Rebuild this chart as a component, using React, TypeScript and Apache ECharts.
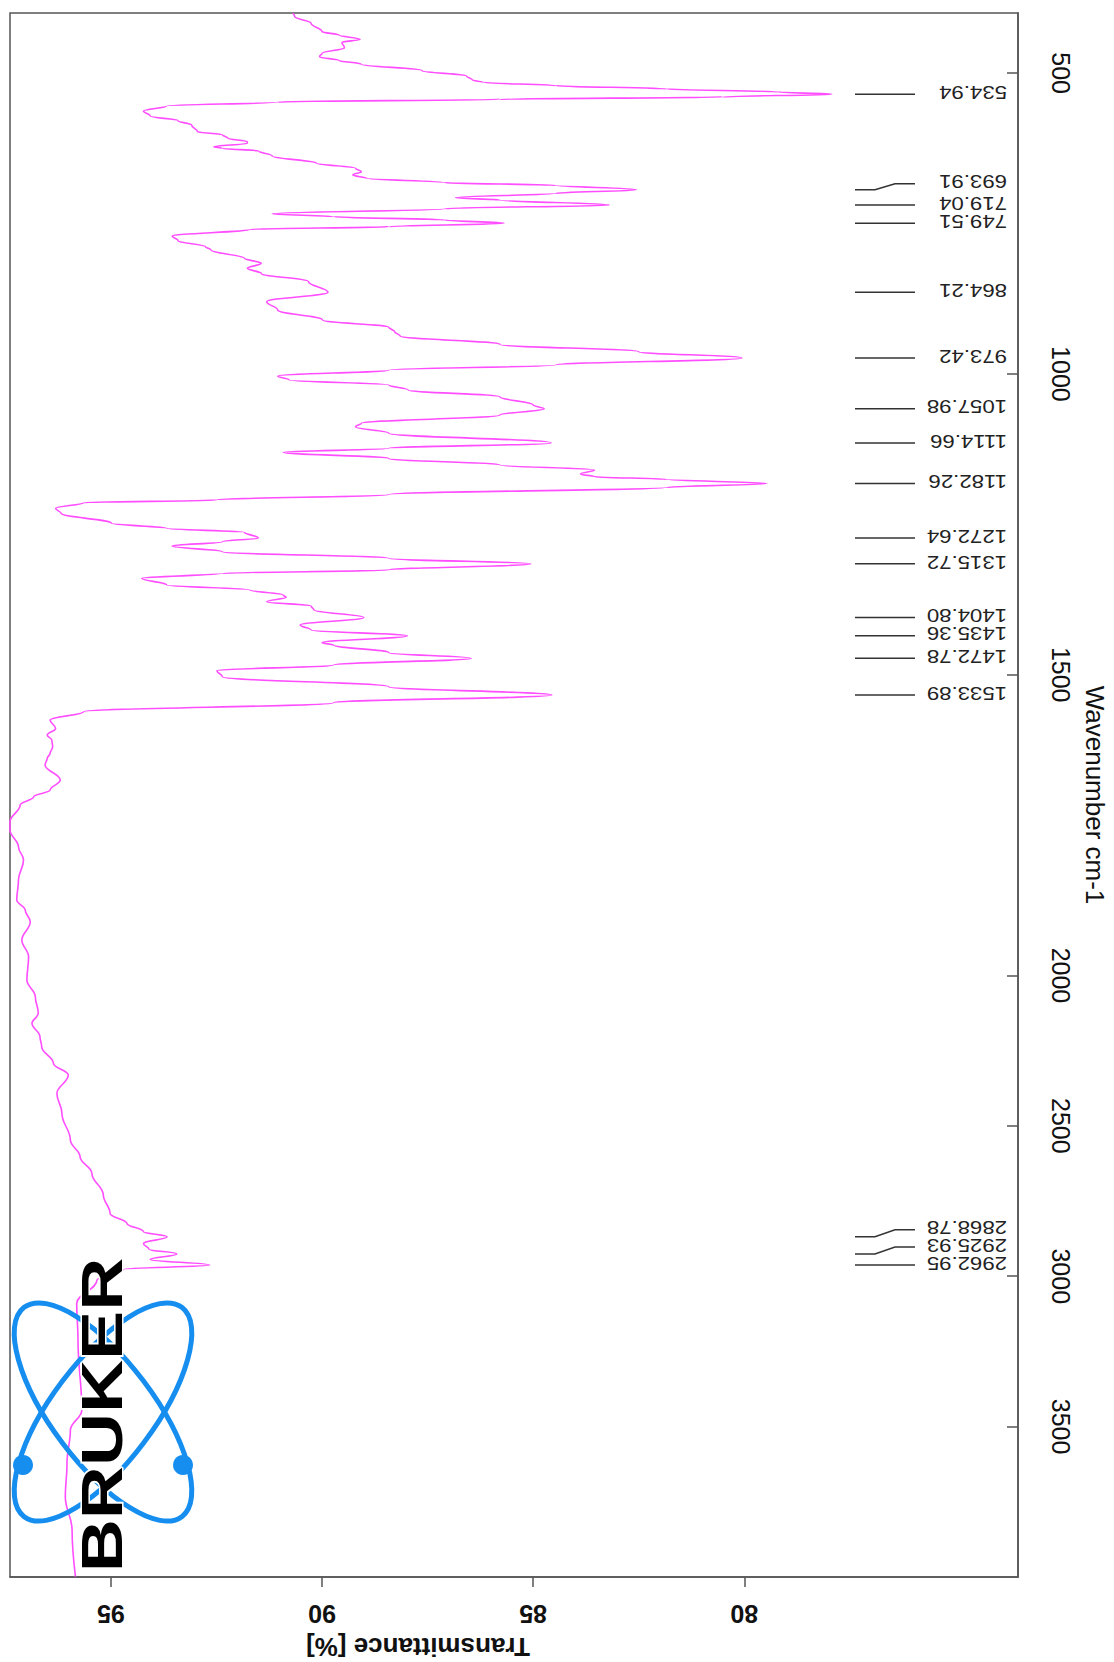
import React, { useEffect, useRef } from "react";
import * as echarts from "echarts";

// IR spectrum, [wavenumber cm-1, transmittance %], split by region.
const SPECTRUM_FINGERPRINT: [number, number][] = [
  [400.5, 90.69], [406, 90.65], [417, 90.26], [431, 90.0], [436.6, 89.6], [443.8, 89.1],
  [449, 89.53], [457.6, 89.47], [467, 90.0], [472.6, 90.06], [479, 89.6], [485, 89.07],
  [495.9, 87.63], [504.7, 86.58], [511.4, 86.44], [515.3, 86.18], [520.8, 84.47],
  [526.3, 81.84], [531.3, 79.21], [534.94, 77.93], [539.6, 80.52], [543.5, 85.79],
  [548, 91.05], [554.6, 93.68], [563, 94.23], [571.2, 94.07], [579, 93.41], [586.2, 93.09],
  [597.3, 92.95], [602.3, 92.36], [608.4, 92.23], [613.9, 91.77], [616.7, 91.77],
  [622.2, 92.56], [625, 92.36], [629.4, 91.5], [637.7, 91.18], [649.9, 90.13],
  [658.2, 89.21], [663.8, 89.07], [669.3, 89.27], [674.9, 88.94], [682.1, 87.1],
  [686.5, 84.47], [693.91, 82.56], [699.8, 84.47], [707, 86.84], [710.9, 85.79],
  [719.04, 83.2], [725.3, 87.1], [733.6, 91.18], [738.6, 89.73], [744.1, 87.1],
  [749.51, 85.69], [755.2, 88.42], [759.7, 91.71], [770.7, 93.55], [778.5, 93.41],
  [788.5, 92.76], [794, 92.63], [807.9, 91.84], [816.2, 91.44], [824.5, 91.77],
  [832.9, 91.44], [846.7, 90.32], [864.21, 89.86], [879.9, 91.31], [893.8, 91.05],
  [910.4, 89.99], [922.6, 88.42], [929.8, 88.28], [937, 88.15], [950.9, 85.79],
  [963, 82.5], [973.42, 80.06], [985.2, 84.47], [993.6, 88.42],
];

const SPECTRUM_MID: [number, number][] = [
  [1003.5, 91.05], [1010.2, 90.78], [1018.5, 88.42], [1026.8, 87.96], [1037.9, 85.79],
  [1051.7, 85.0], [1057.98, 84.74], [1068.4, 85.79], [1082.2, 89.07], [1087.8, 89.21],
  [1098.8, 88.42], [1114.66, 84.58], [1123.7, 88.42], [1130.4, 90.92], [1140.4, 88.42],
  [1151.5, 85.79], [1159.8, 83.55], [1166.4, 83.88], [1170.9, 83.55], [1175.3, 81.84],
  [1182.26, 79.47], [1188.6, 81.84], [1200.3, 88.42], [1209.6, 92.5], [1214, 95.65],
  [1223.5, 96.31], [1231.8, 96.18], [1248.4, 94.99], [1256.7, 93.68], [1263.4, 91.84],
  [1272.64, 91.51], [1278.9, 92.36], [1286.1, 93.55], [1295.5, 92.36], [1306.6, 88.42],
  [1315.72, 85.06], [1326, 88.42], [1331.5, 92.36], [1339.8, 94.27], [1350.9, 93.68],
  [1359.2, 91.71], [1367.5, 90.92], [1371.4, 90.85], [1378.6, 91.31], [1385.8, 90.26],
  [1392.5, 90.19], [1404.8, 89.01], [1417.4, 90.52], [1425.7, 90.26], [1435.36, 87.98],
  [1446.8, 90.0], [1450.7, 89.73], [1463.4, 88.42], [1472.78, 86.47], [1483.9, 89.73],
  [1493.4, 92.49], [1503.4, 92.36], [1520, 88.42], [1533.89, 84.56], [1546.6, 89.73],
  [1561.6, 95.65], [1575.4, 96.44], [1589.3, 96.31],
];

const SPECTRUM_HIGH: [number, number][] = [
  [1600.4, 96.51], [1608.7, 96.4], [1619.8, 96.38], [1630.8, 96.44], [1639.2, 96.51],
  [1650.2, 96.56], [1675.2, 96.2], [1691.8, 96.44], [1702.9, 96.83], [1716.7, 97.15],
  [1744.4, 97.39], [1758.3, 97.39], [1786, 97.19], [1808.2, 97.07], [1841.4, 97.19],
  [1874.7, 97.23], [1891.3, 97.03], [1910.7, 96.91], [1941.2, 97.11], [1968.9, 96.95],
  [2015.5, 96.99], [2070.8, 96.79], [2126, 96.72], [2159, 96.87], [2203.8, 96.68],
  [2237, 96.64], [2292.4, 96.36], [2331.2, 96.01], [2392, 96.28], [2458.6, 96.16],
  [2547.4, 95.96], [2602.8, 95.73], [2658.2, 95.45], [2730.2, 95.18], [2791.2, 95.02],
  [2824.4, 94.62], [2852.2, 94.23], [2868.78, 93.67], [2891, 94.23], [2910, 94.1],
  [2925.93, 93.44], [2944, 94.07], [2962.95, 92.66], [2977, 94.7], [3012.8, 95.33],
  [3090.4, 95.81], [3212.4, 95.78], [3445.2, 95.69], [3511.6, 95.96], [3621.2, 96.04],
  [3734.4, 96.08], [3844, 95.92], [3999, 95.84],
];

// Picked peaks (wavenumber, cm-1)
const PEAKS = [
  534.94, 693.91, 719.04, 749.51, 864.21, 973.42, 1057.98, 1114.66, 1182.26, 1272.64,
  1315.72, 1404.8, 1435.36, 1472.78, 1533.89, 2868.78, 2925.93, 2962.95,
];

const TRANSMITTANCE_TICKS = [80, 85, 90, 95];
const WAVENUMBER_TICKS = [500, 1000, 1500, 2000, 2500, 3000, 3500];

// Axis ranges
const T_MIN = 73.52;
const T_MAX = 97.39;
const W_MIN = 400;
const W_MAX = 4000;

// Above this wavenumber the axis is drawn at half scale
const SCALE_BREAK = 2000;
const toAxis = (w: number) => (w <= SCALE_BREAK ? w : SCALE_BREAK + (w - SCALE_BREAK) / 2);
const fromAxis = (u: number) => (u <= SCALE_BREAK ? u : SCALE_BREAK + (u - SCALE_BREAK) * 2);

// Vertical nudges (px) for crowded peak labels
const PEAK_LABEL_NUDGE: Record<string, number> = {
  "693.91": -6,
  "2868.78": -7,
  "2925.93": -7,
};

const FONT = '"Liberation Sans", Arial, sans-serif';
const AXIS_GRAY = "#555";
const SPECTRUM_COLOR = "#ff4dff";
const LOGO_BLUE = "#168ef0";

export default function App() {
  const ref = useRef<HTMLDivElement>(null);

  useEffect(() => {
    if (!ref.current) return;
    const chart = echarts.init(ref.current, null, { renderer: "svg" });

    const spectrum = [...SPECTRUM_FINGERPRINT, ...SPECTRUM_MID, ...SPECTRUM_HIGH].map(
      ([w, t]) => [t, toAxis(w)]
    );

    const option: any = {
      animation: false,
      backgroundColor: "#fff",
      textStyle: { fontFamily: FONT },
      grid: {
        left: 10,
        top: 13,
        right: 96,
        bottom: 85,
        show: true,
        borderColor: AXIS_GRAY,
        borderWidth: 1.5,
        outerBoundsMode: "none",
      },
      xAxis: {
        type: "value",
        min: T_MIN,
        max: T_MAX,
        inverse: true,
        axisLine: { show: true, onZero: false, lineStyle: { color: AXIS_GRAY, width: 1.5 } },
        axisTick: {
          show: true,
          length: 10,
          customValues: TRANSMITTANCE_TICKS,
          lineStyle: { color: AXIS_GRAY, width: 1.5 },
        },
        axisLabel: {
          customValues: TRANSMITTANCE_TICKS,
          rotate: 180,
          fontSize: 25,
          fontWeight: "bold",
          color: "#111",
          margin: 24,
          fontFamily: FONT,
        },
        splitLine: { show: false },
      },
      yAxis: {
        type: "value",
        min: toAxis(W_MIN),
        max: toAxis(W_MAX),
        inverse: true,
        position: "right",
        axisLine: { show: true, onZero: false, lineStyle: { color: AXIS_GRAY, width: 1.5 } },
        axisTick: {
          show: true,
          inside: true,
          length: 11,
          customValues: WAVENUMBER_TICKS.map(toAxis),
          lineStyle: { color: AXIS_GRAY, width: 1.5 },
        },
        axisLabel: {
          customValues: WAVENUMBER_TICKS.map(toAxis),
          rotate: -90,
          fontSize: 25,
          color: "#111",
          margin: 30,
          fontFamily: FONT,
          formatter: (v: number) => String(Math.round(fromAxis(v))),
        },
        name: "Wavenumber cm-1",
        nameLocation: "middle",
        nameRotate: -90,
        nameGap: 64,
        nameTextStyle: { fontSize: 26, color: "#111", fontFamily: FONT },
        splitLine: { show: false },
      },
      series: [
        {
          type: "line",
          data: spectrum,
          showSymbol: false,
          smooth: 0.4,
          smoothMonotone: "y",
          silent: true,
          lineStyle: { color: SPECTRUM_COLOR, width: 1.6 },
          z: 2,
        },
        {
          type: "custom",
          coordinateSystem: "cartesian2d",
          silent: true,
          clip: false,
          data: PEAKS.map((w, i) => [T_MIN, toAxis(w), i]),
          encode: { x: 0, y: 1 },
          renderItem: (params: any, api: any) => {
            const idx = api.value(2);
            const w = PEAKS[idx];
            const label = w.toFixed(2);
            const pt = api.coord([api.value(0), api.value(1)]);
            const cs = params.coordSys;
            const right = cs.x + cs.width;
            const y = pt[1];
            const dy = PEAK_LABEL_NUDGE[label] || 0;
            return {
              type: "group",
              children: [
                {
                  type: "polyline",
                  shape: {
                    points: [
                      [right - 163, y],
                      [right - 143, y],
                      [right - 123, y + dy],
                      [right - 103, y + dy],
                    ],
                  },
                  style: { stroke: "#333", lineWidth: 1.5, fill: null },
                },
                {
                  type: "text",
                  x: right - 11,
                  y: y + dy - 2,
                  rotation: Math.PI,
                  scaleX: 1.2,
                  style: {
                    text: label,
                    fill: "#222",
                    font: `18.5px ${FONT}`,
                    align: "left",
                    verticalAlign: "middle",
                  },
                },
              ],
            };
          },
          z: 3,
        },
      ],
      graphic: [
        {
          type: "text",
          x: 418,
          y: 1647,
          rotation: Math.PI,
          z: 100,
          style: {
            text: "Transmittance [%]",
            font: `bold 26px ${FONT}`,
            fill: "#111",
            align: "center",
            verticalAlign: "middle",
          },
        },
        {
          type: "group",
          z: 100,
          children: [
            {
              type: "ellipse",
              x: 103,
              y: 1412,
              rotation: (53 * Math.PI) / 180,
              shape: { cx: 0, cy: 0, rx: 131, ry: 51 },
              style: { stroke: LOGO_BLUE, lineWidth: 5, fill: null },
              z: 100,
            },
            {
              type: "ellipse",
              x: 103,
              y: 1412,
              rotation: (-53 * Math.PI) / 180,
              shape: { cx: 0, cy: 0, rx: 131, ry: 51 },
              style: { stroke: LOGO_BLUE, lineWidth: 5, fill: null },
              z: 100,
            },
            {
              type: "circle",
              shape: { cx: 23, cy: 1465, r: 10 },
              style: { fill: LOGO_BLUE },
              z: 101,
            },
            {
              type: "circle",
              shape: { cx: 183, cy: 1465, r: 10 },
              style: { fill: LOGO_BLUE },
              z: 101,
            },
            {
              type: "text",
              x: 102,
              y: 1415,
              rotation: Math.PI / 2,
              scaleX: 1.29,
              z: 102,
              style: {
                text: "BRUKER",
                font: `bold 57px ${FONT}`,
                fill: "#000",
                stroke: "#fff",
                lineWidth: 3,
                align: "center",
                verticalAlign: "middle",
              },
            },
          ],
        },
      ],
    };

    chart.setOption(option);
    return () => chart.dispose();
  }, []);

  return (
    <div
      ref={ref}
      style={{
        position: "fixed",
        left: 0,
        top: 0,
        width: 1114,
        height: 1662,
        background: "#fff",
      }}
    />
  );
}
